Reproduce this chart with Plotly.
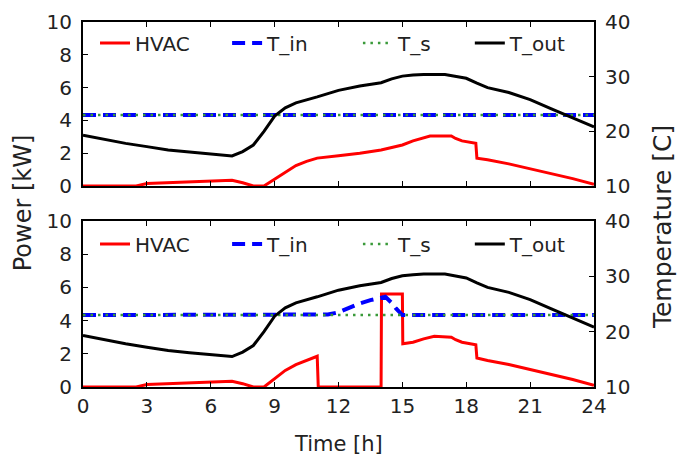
import plotly.graph_objects as go

# ---------------- data ----------------
t_hvac_top = [0, 2.5, 3, 4, 5, 6, 7, 7.5, 8, 8.5, 9, 9.5, 10, 10.5, 11, 12, 13, 14, 15, 15.5,
              16.3, 17.3, 17.5, 17.8, 18.45, 18.5, 19, 20, 21, 22, 23, 24]
hvac_top = [0, 0, 0.15, 0.2, 0.25, 0.3, 0.35, 0.2, 0, 0, 0.4, 0.85, 1.25, 1.5, 1.7, 1.85, 2.0, 2.2, 2.5, 2.75,
            3.05, 3.05, 2.9, 2.75, 2.6, 1.7, 1.6, 1.35, 1.05, 0.75, 0.45, 0.1]

t_hvac_bot = [0, 2.5, 3, 4, 5, 6, 7, 7.5, 8, 8.5, 9, 9.5, 10, 10.5, 11, 11.05, 14, 14.02, 15, 15.02,
              15.5, 16, 16.5, 17.3, 17.5, 17.8, 18.45, 18.5, 19, 20, 21, 22, 23, 24]
hvac_bot = [0, 0, 0.15, 0.2, 0.25, 0.3, 0.35, 0.2, 0, 0, 0.5, 1.0, 1.35, 1.6, 1.85, 0, 0, 5.6, 5.6, 2.6,
            2.7, 2.9, 3.05, 3.0, 2.85, 2.7, 2.55, 1.75, 1.6, 1.35, 1.05, 0.75, 0.45, 0.1]

t_out_time = [0, 1, 2, 3, 4, 5, 6, 7, 7.5, 8, 8.5, 9, 9.5, 10, 11, 12, 13, 14, 14.5, 15, 15.5, 16,
              17, 17.5, 18, 18.5, 19, 20, 21, 22, 23, 24]
t_out = [19.3, 18.5, 17.8, 17.2, 16.6, 16.2, 15.9, 15.5, 16.3, 17.5, 20.0, 22.8, 24.3, 25.2, 26.3, 27.5,
         28.3, 28.9, 29.6, 30.1, 30.3, 30.4, 30.4, 30.1, 29.7, 28.8, 28.0, 27.1, 25.8, 24.1, 22.5, 20.8]

t_in_top_time = [0, 24]
t_in_top = [23, 23]

t_in_bot_time = [0, 11, 11.5, 12, 12.5, 13, 13.5, 14, 14.2, 14.5, 14.7, 15, 24]
t_in_bot = [23, 23, 23.1, 23.5, 24.3, 25.1, 25.7, 26.2, 26.3, 25.2, 24.2, 23, 23]

t_s_time = [0, 24]
t_s = [23, 23]

series_names = ["HVAC", "T_in", "T_s", "T_out"]
x_ticks = [0, 3, 6, 9, 12, 15, 18, 21, 24]
power_ticks = [0, 2, 4, 6, 8, 10]
temp_ticks = [10, 20, 30, 40]

# ---------------- styling ----------------
FONT = "DejaVu Sans, sans-serif"
TXT = "#222222"
RED = "#ff0000"
BLUE = "#0000ff"
GREEN = "#3a9a3a"
BLACK = "#000000"

# legend entry anchor positions (paper x) and panel legend tops (paper y)
legend_x = [0.0235, 0.282, 0.538, 0.757]
legend_y = {"top": 0.9956, "bot": 0.445}

fig = go.Figure()
legend_layout = {}
leg_counter = [0]

def new_legend(x, y):
    leg_counter[0] += 1
    key = "legend" if leg_counter[0] == 1 else f"legend{leg_counter[0]}"
    legend_layout[key] = dict(x=x, y=y, xanchor="left", yanchor="top", orientation="h",
                              bgcolor="rgba(0,0,0,0)", itemwidth=30,
                              font=dict(family=FONT, size=20, color=TXT))
    return key

def add_panel(xa, ya_left, ya_right, ly, t_h, h, t_in_t, t_in_v):
    specs = [
        (t_h, h, ya_left, dict(color=RED, width=3)),
        (t_in_t, t_in_v, ya_right, dict(color=BLUE, width=4, dash="13px,7px")),
        (t_s_time, t_s, ya_right, dict(color=GREEN, width=2.5, dash="2.5px,5px")),
        (t_out_time, t_out, ya_right, dict(color=BLACK, width=3)),
    ]
    for i, (xs, ys, ya, ln) in enumerate(specs):
        key = new_legend(legend_x[i], ly)
        fig.add_trace(go.Scatter(x=xs, y=ys, mode="lines", name=series_names[i], line=ln,
                                 xaxis=xa, yaxis=ya, legend=key, showlegend=True))

add_panel("x", "y", "y2", legend_y["top"], t_hvac_top, hvac_top, t_in_top_time, t_in_top)
add_panel("x2", "y3", "y4", legend_y["bot"], t_hvac_bot, hvac_bot, t_in_bot_time, t_in_bot)

top_dom = [0.5507, 1.0]
bot_dom = [0.0, 0.4548]

tickfont = dict(family=FONT, size=20, color=TXT)
xcommon = dict(range=[0, 24], tickvals=x_ticks, ticks="inside", ticklen=5, tickcolor=BLACK,
               showline=True, linecolor=BLACK, linewidth=2, mirror="ticks", showgrid=False,
               zeroline=False, tickfont=tickfont, automargin=False)
ylcommon = dict(range=[0, 10], tickvals=power_ticks, ticks="inside", ticklen=5, tickcolor=BLACK,
                showline=True, linecolor=BLACK, linewidth=2, showgrid=False, zeroline=False,
                ticklabelstandoff=5, tickfont=tickfont, automargin=False)
yrcommon = dict(range=[10, 40], tickvals=temp_ticks, ticks="inside", ticklen=5, tickcolor=BLACK,
                showline=True, linecolor=BLACK, linewidth=2, showgrid=False, zeroline=False,
                side="right", ticklabelstandoff=5, tickfont=tickfont, automargin=False)

fig.update_layout(
    width=686, height=458, autosize=False, showlegend=True,
    margin=dict(l=75, r=100, t=14, b=79, autoexpand=False),
    paper_bgcolor="white", plot_bgcolor="white",
    xaxis=dict(xcommon, anchor="y", domain=[0, 1], showticklabels=False),
    yaxis=dict(ylcommon, anchor="x", domain=top_dom),
    yaxis2=dict(yrcommon, anchor="x", overlaying="y"),
    xaxis2=dict(xcommon, anchor="y3", domain=[0, 1]),
    yaxis3=dict(ylcommon, anchor="x2", domain=bot_dom),
    yaxis4=dict(yrcommon, anchor="x2", overlaying="y3"),
    annotations=[
        dict(text="Power [kW]", x=-0.117, y=0.504, xref="paper", yref="paper", textangle=-90,
             xanchor="center", yanchor="middle", showarrow=False,
             font=dict(family=FONT, size=24, color=TXT)),
        dict(text="Temperature [C]", x=1.133, y=0.438, xref="paper", yref="paper", textangle=-90,
             xanchor="center", yanchor="middle", showarrow=False,
             font=dict(family=FONT, size=25, color=TXT)),
        dict(text="Time [h]", x=0.5, y=-0.156, xref="paper", yref="paper",
             xanchor="center", yanchor="middle", showarrow=False,
             font=dict(family=FONT, size=21, color=TXT)),
    ],
    **legend_layout,
)

fig.write_html("out.html")
